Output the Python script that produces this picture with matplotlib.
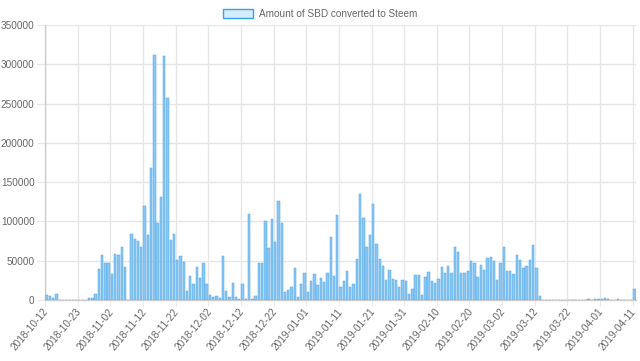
import matplotlib
matplotlib.use("Agg")
import matplotlib.pyplot as plt
from matplotlib.patches import Patch
import pandas as pd

# Dates (one day missing in the source data between 10-12 and 10-23)
all_days = pd.date_range("2018-10-12", "2019-04-11", freq="D")
dates = [d.strftime("%Y-%m-%d") for d in all_days if d.strftime("%Y-%m-%d") != "2018-10-17"]

sbd_converted = [
    6400, 4700, 3000, 7700, 0, 0, 0, 0, 0, 0,
    0, 0, 0, 3000, 2100, 7200, 39000, 57000, 47000, 47000,
    33000, 58000, 57000, 68000, 42000, 0, 84000, 78000, 75000, 68000,
    119500, 82500, 168500, 312000, 98000, 131000, 311000, 257000, 76500, 84500,
    51000, 56000, 49000, 12000, 30600, 20400, 41600, 27400, 46800, 20400,
    6000, 3800, 4700, 3000, 56000, 11500, 3400, 21700, 3800, 1700,
    20400, 1700, 109000, 1300, 5100, 46800, 47600, 101000, 66000, 103000,
    74400, 126000, 98600, 9800, 13200, 16200, 40400, 3400, 20000, 34800,
    10600, 24700, 33200, 19600, 27600, 23000, 34400, 80800, 31000, 108400,
    16600, 24700, 37000, 16200, 20800, 52000, 134800, 103800, 67600, 82500,
    121600, 71000, 52000, 43800, 25100, 38700, 26400, 25500, 17000, 25500,
    24700, 7700, 14000, 31900, 31900, 6800, 28900, 35300, 24700, 21700,
    26400, 42500, 34000, 43800, 34000, 67200, 61200, 34800, 34800, 37000,
    50000, 46800, 28900, 44600, 38300, 54000, 54400, 50000, 25500, 46800,
    68000, 36600, 36600, 32700, 57400, 50600, 40800, 43400, 51000, 70200,
    40400, 4700, 0, 0, 0, 0, 0, 0, 0, 0,
    0, 0, 400, 0, 400, 0, 1300, 0, 900, 1300,
    1300, 3000, 1300, 0, 0, 900, 0, 0, 0, 0,
    14000,
]

y_ticks = [0, 50000, 100000, 150000, 200000, 250000, 300000, 350000]
legend_label = "Amount of SBD converted to Steem"

plt.rcParams['font.family'] = ['Liberation Sans', 'DejaVu Sans']

fig = plt.figure(figsize=(6.4, 3.61), dpi=100)
ax = fig.add_axes([45/640, 1 - 300/361, 591/640, 275/361])

bar_face = '#8bc7f2'
bar_edge = '#4aa8ea'
x = list(range(len(sbd_converted)))
ax.bar(x, sbd_converted, width=0.72, color=bar_face, edgecolor=bar_edge, linewidth=0.35,
       zorder=3)

ax.set_xlim(-0.5, len(sbd_converted) - 0.5)
ax.set_ylim(0, 350000)

grid_col = '#e6e6e6'
ax.set_yticks(y_ticks)
ax.set_yticklabels([str(v) for v in y_ticks])
ax.yaxis.grid(True, color=grid_col, linewidth=1, zorder=0)

label_pos = list(range(0, len(dates), 10))
ax.set_xticks(label_pos)
ax.set_xticklabels([dates[i] for i in label_pos], rotation=50, ha='right', va='center',
                   rotation_mode='anchor')
ax.set_xticks([p - 0.5 for p in label_pos], minor=True)
ax.xaxis.grid(True, which='minor', color=grid_col, linewidth=1, zorder=0)
ax.xaxis.grid(False, which='major')
ax.set_axisbelow(True)
ax.tick_params(axis='x', which='major', length=0, pad=7, labelsize=7.2, labelcolor='#666666')
ax.tick_params(axis='x', which='minor', length=4, color=grid_col)
ax.tick_params(axis='y', length=6, color=grid_col, labelsize=7.2, labelcolor='#666666', pad=1.5)

for s in ['top', 'right']:
    ax.spines[s].set_visible(False)
for s in ['left', 'bottom']:
    ax.spines[s].set_color('#cccccc')
    ax.spines[s].set_linewidth(1)

handle = Patch(facecolor='#d7ecfb', edgecolor='#36a2eb', linewidth=1)
leg = fig.legend([handle], [legend_label], loc='upper center', bbox_to_anchor=(0.5, 1.0),
                 frameon=False, fontsize=7.2, handlelength=3.0, handleheight=0.9,
                 handletextpad=0.6, labelcolor='#666666')

fig.savefig("out.png", dpi=100)
